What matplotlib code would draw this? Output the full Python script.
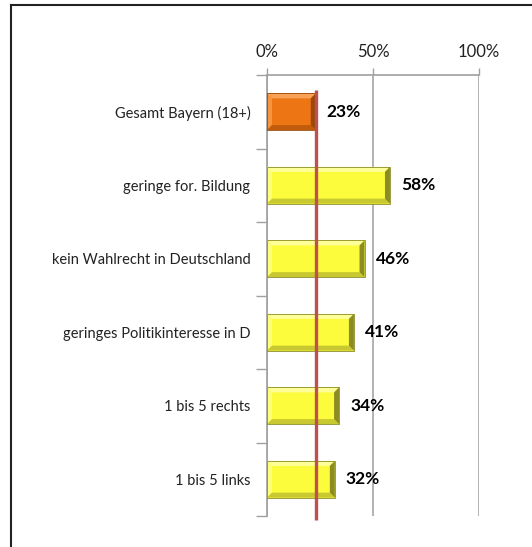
import matplotlib
matplotlib.use("Agg")
import matplotlib.pyplot as plt
from matplotlib.lines import Line2D
from matplotlib.patches import Polygon

categories = ["Gesamt Bayern (18+)", "geringe for. Bildung", "kein Wahlrecht in Deutschland",
              "geringes Politikinteresse in D", "1 bis 5 rechts", "1 bis 5 links"]
values = [23, 58, 46, 41, 34, 32]
reference_value = 23
xticks = [0, 50, 100]
xtick_labels = ["0%", "50%", "100%"]

W, H = 532, 547
fig = plt.figure(figsize=(W / 100, H / 100), dpi=100)
plt.rcParams['font.family'] = ['Lato', 'DejaVu Sans']

ax = fig.add_axes([267 / W, 1 - 516 / H, (479 - 267) / W, (516 - 75) / H])
n = len(categories)
ypos = list(range(n))
base_colors = ["#ee7514"] + ["#fcfc3c"] * (n - 1)
light_colors = ["#f8a255"] + ["#ffff9a"] * (n - 1)
dark_colors = ["#9a4a08"] + ["#8c8c24"] * (n - 1)
mid_dark = ["#c05c0c"] + ["#c8c830"] * (n - 1)

bar_h = 0.5
bars = ax.barh(ypos, values, height=bar_h, color=base_colors, edgecolor="none", zorder=3)

ax.set_xlim(0, 100)
ax.set_ylim(n - 0.5, -0.5)

# bevel effect
px_x = 100 / 212.0
px_y = (n) / 441.0
b = 5
for i, rect in enumerate(bars):
    x0, y0 = rect.get_x(), rect.get_y()
    x1, y1 = x0 + rect.get_width(), y0 + rect.get_height()
    dx, dy = b * px_x, b * px_y
    top = Polygon([(x0, y0), (x1, y0), (x1 - dx, y0 + dy), (x0 + dx, y0 + dy)], closed=True,
                  facecolor=light_colors[i], edgecolor="none", zorder=4)
    left = Polygon([(x0, y0), (x0 + dx, y0 + dy), (x0 + dx, y1 - dy), (x0, y1)], closed=True,
                   facecolor=light_colors[i], edgecolor="none", zorder=4, alpha=0.7)
    bottom = Polygon([(x0, y1), (x1, y1), (x1 - dx, y1 - dy), (x0 + dx, y1 - dy)], closed=True,
                     facecolor=mid_dark[i], edgecolor="none", zorder=4)
    right = Polygon([(x1, y0), (x1, y1), (x1 - dx, y1 - dy), (x1 - dx, y0 + dy)], closed=True,
                    facecolor=dark_colors[i], edgecolor="none", zorder=4)
    for p in (top, left, bottom, right):
        ax.add_patch(p)
    ax.add_patch(plt.Rectangle((x0, y0), x1 - x0, y1 - y0, facecolor="none",
                               edgecolor=dark_colors[i], linewidth=0.6, zorder=5))
    ax.text(rect.get_width() + 11 * px_x, ypos[i], f"{values[i]}%", va="center", ha="left",
            fontsize=12.5, fontweight="bold", color="black", zorder=6)

# reference line
ax.plot([reference_value, reference_value], [-0.3, n - 0.45], color="#c0504d", linewidth=2.4,
        zorder=7, clip_on=False, solid_capstyle="butt")

# axes styling
ax.xaxis.tick_top()
ax.set_xticks(xticks)
ax.set_xticklabels(xtick_labels, fontsize=12, color="#222222")
ax.tick_params(axis="x", length=5, width=1, color="#a0a0a0", pad=6)
ax.grid(axis="x", color="#a6a6a6", linewidth=1.2, zorder=0)

ax.set_yticks(ypos)
ax.set_yticklabels(categories, fontsize=10.5, color="#222222")
ax.set_yticks([y - 0.5 for y in ypos] + [n - 0.5], minor=True)
ax.tick_params(axis="y", which="major", length=0, pad=12)
ax.tick_params(axis="y", which="minor", length=8, width=1, color="#a0a0a0")

for s in ("right", "bottom"):
    ax.spines[s].set_visible(False)
for s in ("top", "left"):
    ax.spines[s].set_color("#a0a0a0")
    ax.spines[s].set_linewidth(1.2)

# outer frame (top and left)
fig.add_artist(Line2D([11 / W, 11 / W], [0, 1 - 5 / H], color="#222222", linewidth=1.5))
fig.add_artist(Line2D([11 / W, 1], [1 - 5 / H, 1 - 5 / H], color="#222222", linewidth=1.5))

fig.savefig("out.png", dpi=100)
